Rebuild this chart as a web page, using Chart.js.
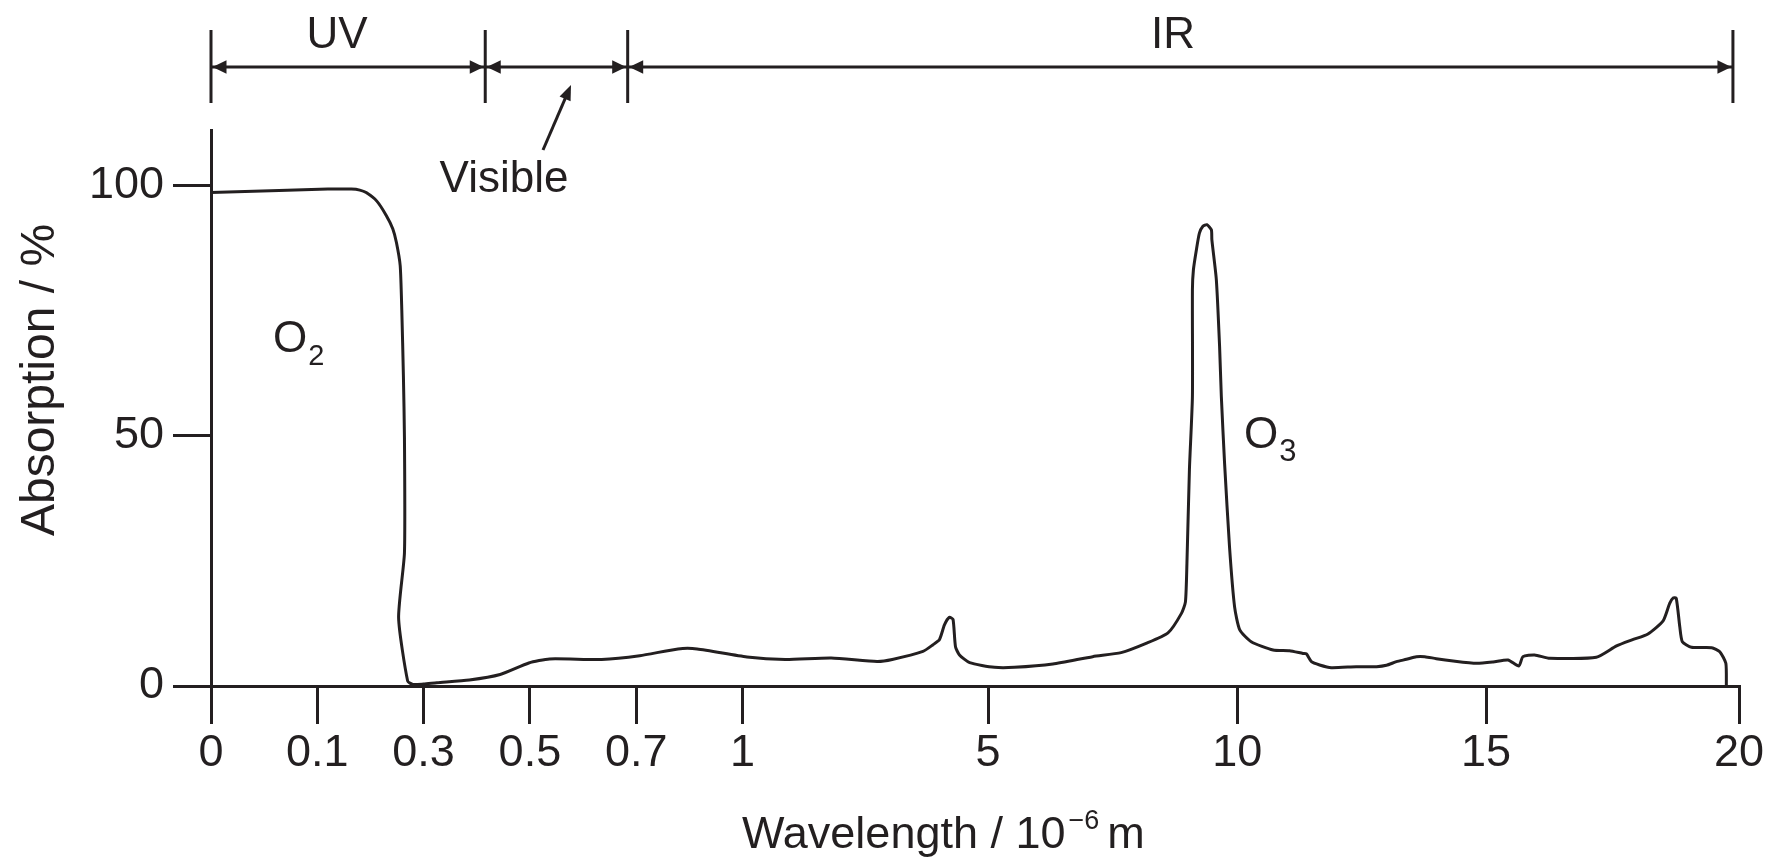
<!DOCTYPE html>
<html>
<head>
<meta charset="utf-8">
<script src="https://cdn.jsdelivr.net/npm/chart.js@4.4.1/dist/chart.umd.min.js"></script>
<style>
  html, body { margin: 0; padding: 0; background: #ffffff; }
  #wrap { width: 1772px; height: 868px; position: relative; }
</style>
</head>
<body>
<div id="wrap"><canvas id="c"></canvas></div>
<script>
// ---------- data ----------
const TICK_VALUES = [0, 0.1, 0.3, 0.5, 0.7, 1, 5, 10, 15, 20];
const TICK_LABELS = ['0', '0.1', '0.3', '0.5', '0.7', '1', '5', '10', '15', '20'];
const Y_TICKS = [0, 50, 100];

// wavelength (10^-6 m) and absorption (%)
const WAVELENGTH = [
  0, 0.064, 0.12, 0.164, 0.18, 0.192, 0.212, 0.23, 0.242, 0.249, 0.256, 0.259, 0.262, 0.264, 0.264, 0.253, 0.27, 0.28,
  0.30, 0.325, 0.386, 0.444, 0.498, 0.537, 0.635, 0.71, 0.818, 0.872, 1.073, 1.697, 2.445, 3.192, 3.44, 3.94, 4.10,
  4.21, 4.29, 4.37, 4.43, 4.47, 4.535, 4.70, 5.13, 5.53, 6.30, 7.10, 7.67, 8.17, 8.61, 8.88, 8.96, 8.99, 9.04, 9.10,
  9.10, 9.12, 9.18, 9.24, 9.31, 9.39, 9.48, 9.49, 9.58, 9.645, 9.68, 9.745, 9.844, 9.946, 10.05, 10.28, 10.72, 11.05,
  11.32, 11.39, 11.49, 11.655, 11.89, 12.39, 12.80, 13.0, 13.2, 13.4, 13.6, 13.77, 14.0, 14.34, 14.81, 15.14, 15.435,
  15.65, 15.73, 15.96, 16.26, 17.18, 17.58, 17.91, 18.20, 18.50, 18.63, 18.70, 18.76, 18.83, 18.88, 19.06, 19.46,
  19.62, 19.74, 19.75
];
const ABSORPTION = [
  98.5, 98.9, 99.2, 99.2, 99.0, 98.5, 96.8, 93.9, 91.3, 88.5, 83.9, 75, 62, 49.5, 26.6, 13.6, 1.0, 0.3,
  0.4, 0.66, 1.2, 2.3, 4.6, 5.4, 5.3, 6.05, 7.4, 7.4, 5.8, 5.3, 5.6, 4.9, 5.3, 6.9, 8.2,
  9.3, 12.2, 13.7, 13.3, 7.85, 6.2, 4.66, 3.73, 3.73, 4.4, 5.86, 6.66, 8.5, 10.6, 14.5, 16.8, 24.5, 43.2, 57.8,
  79.1, 83.1, 87.1, 90.4, 91.8, 92.1, 91.1, 89.1, 81.1, 67.8, 57.8, 44.5, 27.8, 15.8, 11.2, 8.85, 7.2, 7.05,
  6.5, 6.4, 4.86, 4.2, 3.66, 3.86, 3.86, 4.13, 4.86, 5.33, 5.86, 5.86, 5.46, 5.0, 4.53, 4.8, 5.2,
  4.0, 5.86, 6.2, 5.53, 5.73, 8.0, 9.3, 10.4, 13.0, 16.5, 17.6, 17.5, 11.8, 8.85, 7.73, 7.65,
  6.85, 4.53, 0
];

// spectral region boundaries (10^-6 m) : UV | Visible | IR
const REGION_BOUNDS = [0, 0.416, 0.684, 19.88];
const REGION_NAMES = ['UV', 'Visible', 'IR'];

// ---------- styling ----------
const INK = '#231f20';
const FONT = "'Liberation Sans', Arial, Helvetica, sans-serif";
// relative on-axis width of each interval between consecutive tick values (the axis is broken/non-uniform)
const SEGMENT_WIDTHS = [1, 1, 1, 1, 1, 2.31, 2.345, 2.34, 2.38];

// ---------- piecewise-linear scale ----------
class PiecewiseScale extends Chart.LinearScale {
  determineDataLimits() {
    this.min = TICK_VALUES[0];
    this.max = TICK_VALUES[TICK_VALUES.length - 1];
  }
  buildTicks() {
    return TICK_VALUES.map(v => ({ value: v }));
  }
  _total() { return SEGMENT_WIDTHS.reduce((a, b) => a + b, 0); }
  _toUnit(v) {
    let acc = 0;
    for (let i = 0; i < TICK_VALUES.length - 1; i++) {
      const a = TICK_VALUES[i], b = TICK_VALUES[i + 1];
      if (v <= b || i === TICK_VALUES.length - 2) return acc + (v - a) / (b - a) * SEGMENT_WIDTHS[i];
      acc += SEGMENT_WIDTHS[i];
    }
    return acc;
  }
  _fromUnit(u) {
    let acc = 0;
    for (let i = 0; i < TICK_VALUES.length - 1; i++) {
      const w = SEGMENT_WIDTHS[i];
      if (u <= acc + w || i === TICK_VALUES.length - 2) {
        return TICK_VALUES[i] + (u - acc) / w * (TICK_VALUES[i + 1] - TICK_VALUES[i]);
      }
      acc += w;
    }
    return TICK_VALUES[TICK_VALUES.length - 1];
  }
  getPixelForValue(value) {
    if (value === null || value === undefined) return NaN;
    return this.getPixelForDecimal(this._toUnit(value) / this._total());
  }
  getValueForPixel(pixel) {
    return this._fromUnit(this.getDecimalForPixel(pixel) * this._total());
  }
}
PiecewiseScale.id = 'piecewise';
PiecewiseScale.defaults = {};
Chart.register(PiecewiseScale);

// ---------- annotation plugin ----------
function arrowHead(ctx, tipX, tipY, dirX, dirY, len, half) {
  const nx = -dirY, ny = dirX;
  const bx = tipX - dirX * len, by = tipY - dirY * len;
  ctx.beginPath();
  ctx.moveTo(tipX, tipY);
  ctx.lineTo(bx + nx * half, by + ny * half);
  ctx.lineTo(bx - nx * half, by - ny * half);
  ctx.closePath();
  ctx.fill();
}
function chem(ctx, base, sub, x, y, size, subSize, subDrop) {
  ctx.font = size + 'px ' + FONT;
  ctx.textAlign = 'left';
  ctx.textBaseline = 'alphabetic';
  ctx.fillText(base, x, y);
  const w = ctx.measureText(base).width;
  ctx.font = subSize + 'px ' + FONT;
  ctx.fillText(sub, x + w + 1, y + subDrop);
}

const annotations = {
  id: 'annotations',
  afterDraw(chart) {
    const ctx = chart.ctx;
    const xs = chart.scales.x;
    ctx.save();
    ctx.strokeStyle = INK;
    ctx.fillStyle = INK;
    ctx.lineWidth = 3;

    // region bracket
    const barTop = 30, barBot = 103, arrowY = 67;
    const px = REGION_BOUNDS.map(v => xs.getPixelForValue(v));
    px.forEach(x => {
      ctx.beginPath(); ctx.moveTo(x, barTop); ctx.lineTo(x, barBot); ctx.stroke();
    });
    ctx.beginPath(); ctx.moveTo(px[0], arrowY); ctx.lineTo(px[px.length - 1], arrowY); ctx.stroke();
    for (let i = 0; i < px.length - 1; i++) {
      arrowHead(ctx, px[i] + 1.5, arrowY, -1, 0, 14, 6.7);
      arrowHead(ctx, px[i + 1] - 1.5, arrowY, 1, 0, 14, 6.7);
    }

    // region names
    ctx.font = '44px ' + FONT;
    ctx.textAlign = 'center';
    ctx.textBaseline = 'alphabetic';
    ctx.fillText(REGION_NAMES[0], 337, 48);
    ctx.fillText(REGION_NAMES[2], 1173, 48);
    ctx.fillText(REGION_NAMES[1], 504, 192);
    // pointer for "Visible"
    const ax0 = 543, ay0 = 150, ax1 = 571, ay1 = 85;
    const L = Math.hypot(ax1 - ax0, ay1 - ay0);
    const dx = (ax1 - ax0) / L, dy = (ay1 - ay0) / L;
    ctx.lineWidth = 3;
    ctx.beginPath(); ctx.moveTo(ax0, ay0); ctx.lineTo(ax1 - dx * 8, ay1 - dy * 8); ctx.stroke();
    arrowHead(ctx, ax1, ay1, dx, dy, 15, 6);

    // molecule labels
    chem(ctx, 'O', '2', 273, 352, 44, 29, 13);
    chem(ctx, 'O', '3', 1244, 448, 44, 31, 13);

    // y-axis title
    ctx.save();
    ctx.translate(54, 380);
    ctx.rotate(-Math.PI / 2);
    ctx.font = '48px ' + FONT;
    ctx.textAlign = 'center';
    ctx.textBaseline = 'alphabetic';
    ctx.fillText('Absorption / %', 0, 0);
    ctx.restore();

    // x-axis title with superscript
    ctx.textAlign = 'left';
    ctx.textBaseline = 'alphabetic';
    let tx = 742;
    const ty = 848;
    ctx.font = '45px ' + FONT;
    const p1 = 'Wavelength / 10';
    ctx.fillText(p1, tx, ty);
    tx += ctx.measureText(p1).width + 3;
    ctx.font = '27px ' + FONT;
    const sup = '\u22126';
    ctx.fillText(sup, tx, ty - 19);
    tx += ctx.measureText(sup).width + 8;
    ctx.font = '45px ' + FONT;
    ctx.fillText('m', tx, ty);
    ctx.restore();
  }
};

// ---------- chart ----------
const points = WAVELENGTH.map((w, i) => ({ x: w, y: ABSORPTION[i] }));

new Chart(document.getElementById('c'), {
  type: 'line',
  data: {
    datasets: [{
      label: 'Absorption',
      data: points,
      borderColor: INK,
      borderWidth: 3,
      pointRadius: 0,
      tension: 0.2,
      fill: false,
      clip: false
    }]
  },
  options: {
    responsive: true,
    maintainAspectRatio: false,
    animation: false,
    layout: { padding: { top: 130, right: 33, left: 0, bottom: 0 }, autoPadding: false },
    plugins: { legend: { display: false }, tooltip: { enabled: false }, title: { display: false } },
    scales: {
      x: {
        type: 'piecewise',
        position: 'bottom',
        min: 0, max: 20,
        afterFit: s => { s.height = 182; },
        grid: { drawOnChartArea: false, drawTicks: true, tickLength: 38, lineWidth: 3, color: INK },
        border: { display: true, width: 3, color: INK },
        ticks: {
          autoSkip: false, maxRotation: 0, minRotation: 0, padding: 3,
          color: INK, font: { family: FONT, size: 45 },
          callback: (v, i) => TICK_LABELS[i]
        }
      },
      y: {
        type: 'linear',
        min: 0, max: 111,
        afterBuildTicks: s => { s.ticks = Y_TICKS.map(v => ({ value: v })); },
        afterFit: s => { s.width = 211; },
        grid: { drawOnChartArea: false, drawTicks: true, tickLength: 38, lineWidth: 3, color: INK },
        border: { display: true, width: 3, color: INK },
        ticks: {
          padding: 9, color: INK, font: { family: FONT, size: 45 },
          callback: v => String(v)
        }
      }
    }
  },
  plugins: [annotations]
});
</script>
</body>
</html>
